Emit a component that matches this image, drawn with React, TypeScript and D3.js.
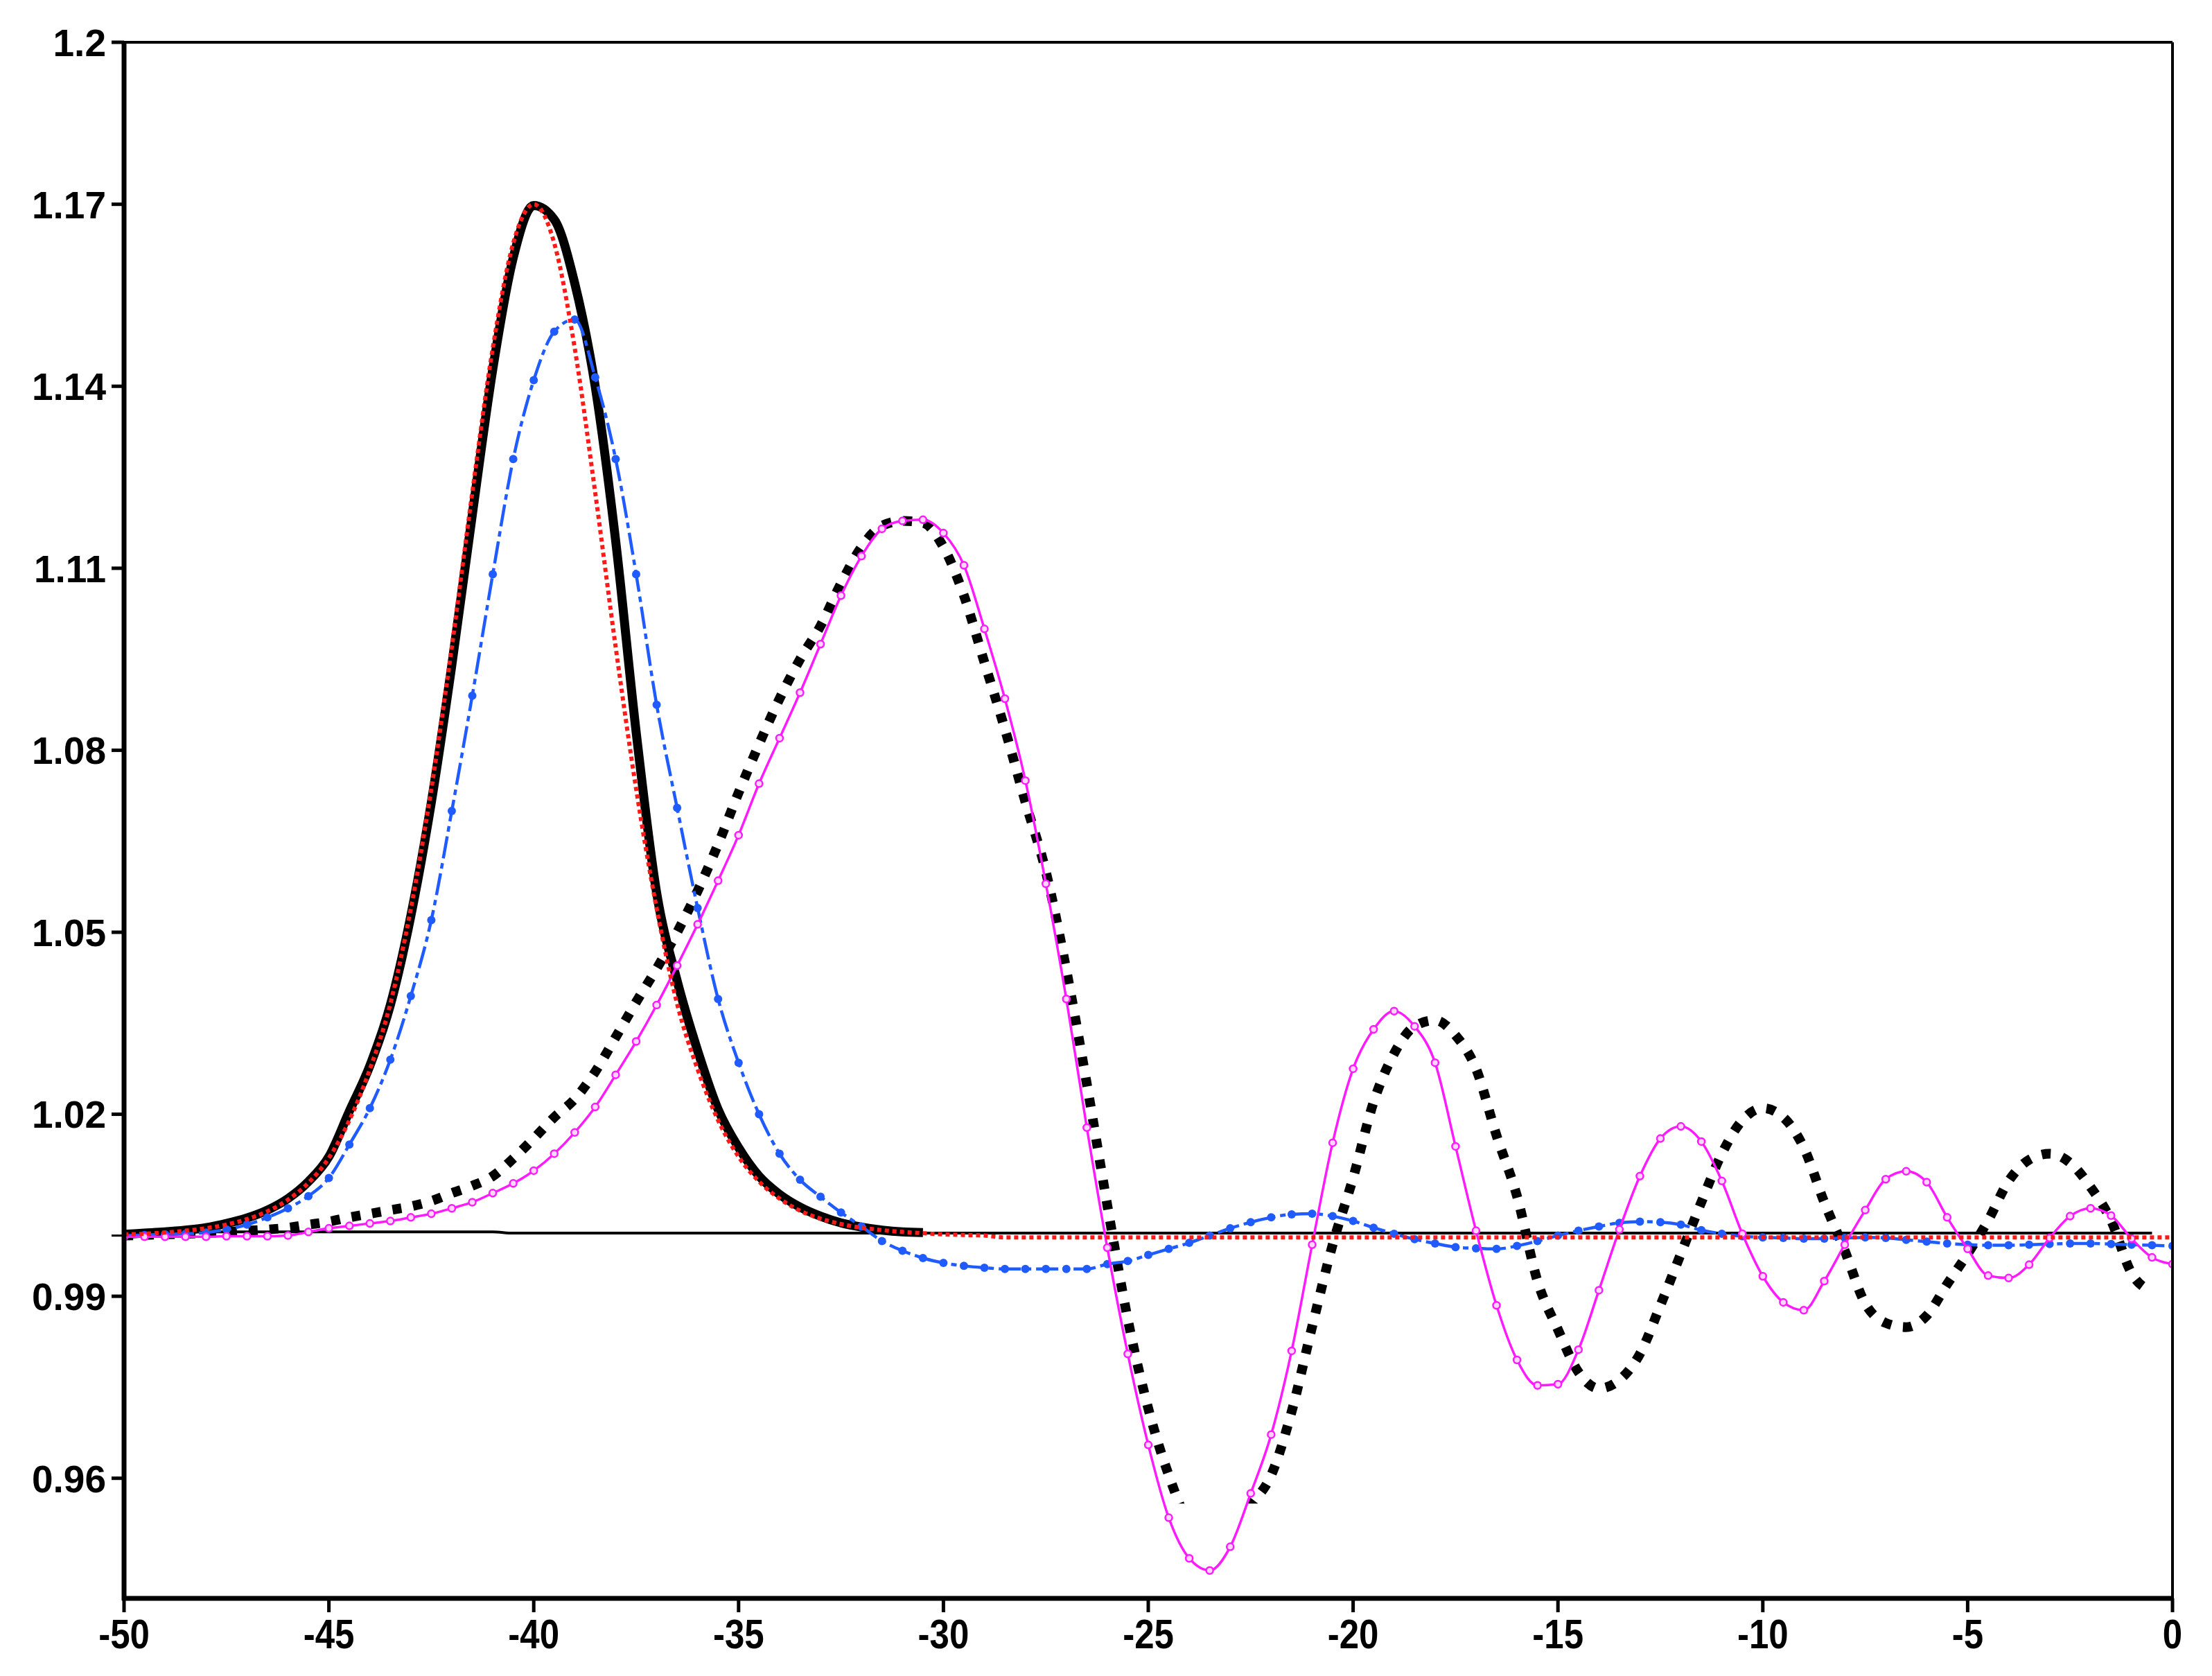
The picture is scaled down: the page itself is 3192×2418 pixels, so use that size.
import React from 'react'
import * as d3 from 'd3'

// sample positions along the x axis (every 0.5)
const xVals = [
  -50, -49.5, -49, -48.5, -48, -47.5, -47, -46.5, -46, -45.5,
  -45, -44.5, -44, -43.5, -43, -42.5, -42, -41.5, -41, -40.5,
  -40, -39.5, -39, -38.5, -38, -37.5, -37, -36.5, -36, -35.5,
  -35, -34.5, -34, -33.5, -33, -32.5, -32, -31.5, -31, -30.5,
  -30, -29.5, -29, -28.5, -28, -27.5, -27, -26.5, -26, -25.5,
  -25, -24.5, -24, -23.5, -23, -22.5, -22, -21.5, -21, -20.5,
  -20, -19.5, -19, -18.5, -18, -17.5, -17, -16.5, -16, -15.5,
  -15, -14.5, -14, -13.5, -13, -12.5, -12, -11.5, -11, -10.5,
  -10, -9.5, -9, -8.5, -8, -7.5, -7, -6.5, -6, -5.5,
  -5, -4.5, -4, -3.5, -3, -2.5, -2, -1.5, -1, -0.5, 0
]

// thick black solid soliton
const blackThick = [
  1.0002, 1.0004, 1.0006, 1.0009, 1.0013, 1.002, 1.0029, 1.0042, 1.0061, 1.0089,
  1.013, 1.0205, 1.028, 1.038, 1.0527, 1.0714, 1.094, 1.1188, 1.1428, 1.1612,
  1.1698, 1.1675, 1.157, 1.14, 1.1145, 1.083, 1.0565, 1.042, 1.0305, 1.0208,
  1.0145, 1.0098, 1.0068, 1.0047, 1.0032, 1.0021, 1.0014, 1.0009, 1.0006, 1.0005,
  null, null, null, null, null, null, null, null, null, null,
  null, null, null, null, null, null, null, null, null, null,
  null, null, null, null, null, null, null, null, null, null,
  null, null, null, null, null, null, null, null, null, null,
  null, null, null, null, null, null, null, null, null, null,
  null, null, null, null, null, null, null, null, null, null, null
]

// red dotted
const redDotted = [
  1.0002, 1.0003, 1.0005, 1.0008, 1.0012, 1.0018, 1.0027, 1.004, 1.0059, 1.0087,
  1.0128, 1.019, 1.0274, 1.0382, 1.0539, 1.0736, 1.097, 1.1225, 1.1463, 1.1636,
  1.17, 1.1636, 1.1463, 1.1225, 1.097, 1.0736, 1.0539, 1.0382, 1.0274, 1.019,
  1.013, 1.0089, 1.0061, 1.0041, 1.0028, 1.0019, 1.0013, 1.0009, 1.0006, 1.0004,
  1.0002, 1.0001, 1.0, 0.9997, 0.9997, 0.9997, 0.9997, 0.9997, 0.9997, 0.9997,
  0.9997, 0.9997, 0.9997, 0.9997, 0.9997, 0.9997, 0.9997, 0.9997, 0.9997, 0.9997,
  0.9997, 0.9997, 0.9997, 0.9997, 0.9997, 0.9997, 0.9997, 0.9997, 0.9997, 0.9997,
  0.9997, 0.9997, 0.9997, 0.9997, 0.9997, 0.9997, 0.9997, 0.9997, 0.9997, 0.9997,
  0.9997, 0.9997, 0.9997, 0.9997, 0.9997, 0.9997, 0.9997, 0.9997, 0.9997, 0.9997,
  0.9997, 0.9997, 0.9997, 0.9997, 0.9997, 0.9997, 0.9997, 0.9997, 0.9997, 0.9997, 0.9997
]

// thin black reference line
const blackThin = [
  1.0006, 1.0006, 1.0006, 1.0006, 1.0006, 1.0006, 1.0006, 1.0006, 1.0006, 1.0006,
  1.0006, 1.0006, 1.0006, 1.0006, 1.0006, 1.0006, 1.0006, 1.0006, 1.0006, 1.0004,
  1.0004, 1.0004, 1.0004, 1.0004, 1.0004, 1.0004, 1.0004, 1.0004, 1.0004, 1.0004,
  1.0004, 1.0004, 1.0004, 1.0004, 1.0004, 1.0004, 1.0004, 1.0004, 1.0004, 1.0004,
  1.0004, 1.0004, 1.0004, 1.0004, 1.0004, 1.0004, 1.0004, 1.0004, 1.0004, 1.0004,
  1.0004, 1.0004, 1.0004, 1.0004, 1.0004, 1.0004, 1.0004, 1.0004, 1.0004, 1.0004,
  1.0004, 1.0004, 1.0004, 1.0004, 1.0004, 1.0004, 1.0004, 1.0004, 1.0004, 1.0004,
  1.0004, 1.0004, 1.0004, 1.0004, 1.0004, 1.0004, 1.0004, 1.0004, 1.0004, 1.0004,
  1.0004, 1.0004, 1.0004, 1.0004, 1.0004, 1.0004, 1.0004, 1.0004, 1.0004, 1.0004,
  1.0004, 1.0004, 1.0004, 1.0004, 1.0004, 1.0004, 1.0004, 1.0004, 1.0004, 1.0004, null
]

// blue dash-dot with dots
const blueDashDot = [
  1.0, 1.0001, 1.0002, 1.0003, 1.0005, 1.001, 1.0018, 1.003, 1.0045, 1.0065,
  1.0095, 1.015, 1.021, 1.029, 1.0395, 1.052, 1.07, 1.089, 1.109, 1.128,
  1.141, 1.149, 1.151, 1.1415, 1.128, 1.109, 1.0875, 1.0705, 1.054, 1.039,
  1.0285, 1.02, 1.0135, 1.0092, 1.0064, 1.0038, 1.0015, 0.9991, 0.9975, 0.9963,
  0.9955, 0.995, 0.9947, 0.9945, 0.9945, 0.9945, 0.9945, 0.9945, 0.9953, 0.9958,
  0.9968, 0.9978, 0.9988, 1.0, 1.0012, 1.0022, 1.003, 1.0035, 1.0036, 1.0032,
  1.0024, 1.0013, 1.0003, 0.9994, 0.9987, 0.9981, 0.9979, 0.9978, 0.9983, 0.9991,
  1.0, 1.0008, 1.0015, 1.0021, 1.0023, 1.0022, 1.0018, 1.0009, 1.0003, 0.9999,
  0.9997, 0.9996, 0.9995, 0.9995, 0.9996, 0.9997, 0.9996, 0.9993, 0.999, 0.9987,
  0.9985, 0.9984, 0.9984, 0.9985, 0.9986, 0.9987, 0.9987, 0.9986, 0.9985, 0.9984, 0.9983
]

// black thick-dotted oscillating curve
const blackDotted = [
  1.0, 1.0001, 1.0002, 1.0003, 1.0004, 1.0006, 1.0008, 1.001, 1.0013, 1.0018,
  1.0023, 1.003, 1.0036, 1.0042, 1.0048, 1.0057, 1.007, 1.0082, 1.0098, 1.0127,
  1.016, 1.0195, 1.0225, 1.027, 1.0327, 1.0385, 1.044, 1.05, 1.0568, 1.0645,
  1.073, 1.081, 1.0885, 1.095, 1.1005, 1.1075, 1.1135, 1.117, 1.1178, 1.1175,
  1.1135, 1.1055, 1.0945, 1.0835, 1.0715, 1.06, 1.0438, 1.025, 1.005, 0.9862,
  0.9715, 0.9605, 0.9525, 0.95, 0.9505, 0.9555, 0.9605, 0.971, 0.985, 0.9985,
  1.0095, 1.022, 1.03, 1.0345, 1.0355, 1.033, 1.0275, 1.0165, 1.0065, 0.9925,
  0.9845, 0.9775, 0.9748, 0.9762, 0.9805, 0.9885, 0.997, 1.0055, 1.0135, 1.019,
  1.021, 1.0195, 1.0145, 1.0055, 0.9975, 0.9888, 0.9856, 0.9849, 0.9868, 0.992,
  0.997, 1.0025, 1.009, 1.0125, 1.0135, 1.012, 1.008, 1.0025, 0.9938, 0.9908, null
]

// magenta solid line with open markers
const magentaLine = [
  0.9998, 0.9998, 0.9998, 0.9998, 0.9998, 0.9999, 0.9999, 0.9999, 1.0, 1.0006,
  1.0012, 1.0016, 1.002, 1.0024, 1.003, 1.0036, 1.0045, 1.0055, 1.007, 1.0086,
  1.0107, 1.0135, 1.017, 1.0212, 1.0265, 1.032, 1.038, 1.0445, 1.0513, 1.0585,
  1.066, 1.0745, 1.082, 1.0895, 1.0975, 1.1055, 1.112, 1.1165, 1.1178, 1.118,
  1.1158, 1.1105, 1.1, 1.0885, 1.075, 1.058, 1.039, 1.0178, 0.998, 0.9805,
  0.9655, 0.9535, 0.9468, 0.9448, 0.9487, 0.9575, 0.9672, 0.981, 0.9985, 1.0153,
  1.0275, 1.034, 1.037, 1.0345, 1.0285, 1.0147, 1.0008, 0.9885, 0.9795, 0.9753,
  0.9755, 0.9812, 0.991, 1.001, 1.0098, 1.016, 1.018, 1.0155, 1.009, 1.0003,
  0.9933, 0.989, 0.9877, 0.9925, 0.9985, 1.0042, 1.0093, 1.0106, 1.0088, 1.003,
  0.9978, 0.9934, 0.993, 0.9952, 0.9996, 1.0032, 1.0045, 1.0033, 0.9995, 0.9964, 0.9953
]

// axis ticks
const xTickValues = [-50, -45, -40, -35, -30, -25, -20, -15, -10, -5, 0]
const xTickLabels = ['-50', '-45', '-40', '-35', '-30', '-25', '-20', '-15', '-10', '-5', '0']
const yTickValues = [0.96, 0.99, 1.0, 1.02, 1.05, 1.08, 1.11, 1.14, 1.17, 1.1967]
const yTickLabels = ['0.96', '0.99', '', '1.02', '1.05', '1.08', '1.11', '1.14', '1.17', '1.2']

const dottedFloor = 0.9565

export default function App() {
  const W = 3192
  const H = 2418
  const left = 179, right = 3135, top = 61, bottom = 2306

  const x = d3.scaleLinear().domain([-50, 0]).range([left, right])
  const y = d3.scaleLinear().domain([0.9402, 1.1967]).range([bottom, top])

  const line = d3.line<number | null>()
    .defined(d => d != null)
    .x((d, i) => x(xVals[i]))
    .y(d => y(d as number))
    .curve(d3.curveMonotoneX)

  const pts = (arr: (number | null)[]) =>
    arr.map((d, i) => ({ x: xVals[i], v: d })).filter(p => p.v != null) as { x: number, v: number }[]

  const font = '"Liberation Sans", Arial, Helvetica, sans-serif'

  return (
    <svg width={W} height={H} style={{ position: 'absolute', left: 0, top: 0, background: '#fff' }}>
      <defs>
        <clipPath id="plotClip">
          <rect x={left} y={top} width={right - left} height={bottom - top} />
        </clipPath>
        <clipPath id="dotClip">
          <rect x={left - 10} y={top} width={right - left + 20} height={y(dottedFloor) - top + 6} />
        </clipPath>
      </defs>
      <rect x={0} y={0} width={W} height={H} fill="#fff" />

      <g clipPath="url(#plotClip)">
        <path d={line(blackThin) || ''} fill="none" stroke="#000" strokeWidth={4} />
        <g clipPath="url(#dotClip)">
          <path d={line(blackDotted) || ''} fill="none" stroke="#000" strokeWidth={14}
            strokeDasharray="13 17" />
        </g>
        <path d={line(blackThick) || ''} fill="none" stroke="#000" strokeWidth={13} />
        <path d={line(blueDashDot) || ''} fill="none" stroke="#1f5bff" strokeWidth={4.5}
          strokeDasharray="32 7 8 7" />
        {pts(blueDashDot).map((p, i) => (
          <circle key={'b' + i} cx={x(p.x)} cy={y(p.v)} r={6} fill="#1f5bff" />
        ))}
        <path d={line(magentaLine) || ''} fill="none" stroke="#ff1aff" strokeWidth={3.5} />
        {pts(magentaLine).map((p, i) => (
          <circle key={'m' + i} cx={x(p.x)} cy={y(p.v)} r={5} fill="#ffd6ff" stroke="#ff1aff" strokeWidth={2.5} />
        ))}
        <path d={line(redDotted) || ''} fill="none" stroke="#ff1a1a" strokeWidth={6}
          strokeDasharray="6 5" />
      </g>

      {/* frame */}
      <line x1={left} x2={right} y1={top} y2={top} stroke="#000" strokeWidth={4} />
      <line x1={right} x2={right} y1={top} y2={bottom} stroke="#000" strokeWidth={4} />
      <line x1={left} x2={left} y1={top - 2} y2={bottom + 3} stroke="#000" strokeWidth={7} />
      <line x1={left - 3} x2={right} y1={bottom} y2={bottom} stroke="#000" strokeWidth={7} />

      {/* y axis */}
      {yTickValues.map((v, i) => (
        <g key={'y' + i} transform={`translate(0,${y(v)})`}>
          <line x1={left - 18} x2={left} stroke="#000" strokeWidth={i === 2 ? 3 : 5} />
          <text x={left - 26} dy="0.36em" textAnchor="end" fontFamily={font} fontWeight="bold"
            fontSize={55} fill="#000">{yTickLabels[i]}</text>
        </g>
      ))}

      {/* x axis */}
      {xTickValues.map((v, i) => (
        <g key={'x' + i} transform={`translate(${x(v)},0)`}>
          <line y1={bottom} y2={bottom + 20} stroke="#000" strokeWidth={5} />
          <text x={0} y={bottom + 72} textAnchor="middle" fontFamily={font} fontWeight="bold"
            fontSize={60} fill="#000" transform={`scale(0.85,1)`}>{xTickLabels[i]}</text>
        </g>
      ))}
    </svg>
  )
}
